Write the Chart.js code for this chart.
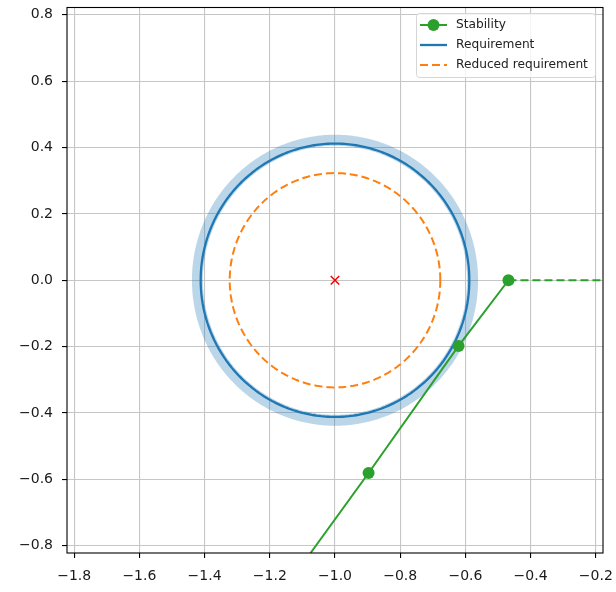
<!DOCTYPE html>
<html><head><meta charset="utf-8">
<script src="https://cdn.jsdelivr.net/npm/chart.js@4/dist/chart.umd.min.js"></script>
<style>html,body{margin:0;padding:0;background:#fff;} canvas{display:block;}</style>
</head><body>
<canvas id="c" width="616" height="592"></canvas>
<script>
// ---- data ----
const xTicks = [-1.8, -1.6, -1.4, -1.2, -1.0, -0.8, -0.6, -0.4, -0.2];
const yTicks = [-0.8, -0.6, -0.4, -0.2, 0.0, 0.2, 0.4, 0.6, 0.8];
const xRange = [-1.822, -0.178];
const yRange = [-0.822, 0.822];
const criticalPoint = [-1.0, 0.0];
const requirementRadius = 0.412;
const requirementBandRadius = 0.422;
const reducedRadius = 0.323;
const stabilityX = [-0.468, -0.621, -0.897, -1.075];
const stabilityY = [0.0, -0.198, -0.581, -0.822];
const stabilityMarker = [6, 6, 6, 0];
const stabilityTailX = [-0.468, -0.178];
const stabilityTailY = [0.0, 0.0];
const legendLabels = ['Stability', 'Requirement', 'Reduced requirement'];

const C0 = '#1f77b4', C1 = '#ff7f0e', C2 = '#2ca02c';

function circle(c, r, n) {
  const pts = [];
  for (let i = 0; i <= n; i++) {
    const t = 2 * Math.PI * i / n;
    pts.push({x: c[0] + r * Math.cos(t), y: c[1] + r * Math.sin(t)});
  }
  return pts;
}
const zip = (xs, ys) => xs.map((x, i) => ({x, y: ys[i]}));
const fmt = v => v.toFixed(1).replace('-', '\u2212');

const FONT = "'DejaVu Sans', sans-serif";

const frameAndLegend = {
  id: 'frameAndLegend',
  afterDatasetsDraw(chart) {
    const {ctx, chartArea: a} = chart;
    ctx.save();
    ctx.strokeStyle = '#000';
    ctx.lineWidth = 1.1;
    ctx.strokeRect(a.left, a.top, a.right - a.left, a.bottom - a.top);
    ctx.restore();
  },
  afterDraw(chart) {
    const {ctx} = chart;
    const box = {x: 416, y: 13, w: 179, h: 64};
    ctx.save();
    ctx.beginPath();
    ctx.roundRect(box.x + 0.5, box.y + 0.5, box.w, box.h, 3);
    ctx.fillStyle = 'rgba(255,255,255,0.8)';
    ctx.fill();
    ctx.strokeStyle = '#d6d6d6';
    ctx.lineWidth = 1;
    ctx.stroke();
    const items = chart.data.datasets.filter(d => d.legendIndex !== undefined)
      .sort((p, q) => p.legendIndex - q.legendIndex);
    items.forEach((d, i) => {
      const y = 25 + i * 20;
      ctx.beginPath();
      ctx.strokeStyle = d.borderColor;
      ctx.lineWidth = d.borderWidth;
      ctx.setLineDash(d.borderDash || []);
      ctx.moveTo(420, y); ctx.lineTo(447, y);
      ctx.stroke();
      ctx.setLineDash([]);
      if (d.legendMarker) {
        ctx.beginPath();
        ctx.fillStyle = d.borderColor;
        ctx.arc(433.5, y, 6, 0, 2 * Math.PI);
        ctx.fill();
      }
      ctx.fillStyle = '#222';
      ctx.font = '12.2px ' + FONT;
      ctx.textBaseline = 'middle';
      ctx.textAlign = 'left';
      ctx.fillText(d.label, 456, y);
    });
    ctx.restore();
  }
};

const lineBase = {showLine: true, pointRadius: 0, tension: 0.0001,
  borderJoinStyle: 'round', borderCapStyle: 'butt'};

new Chart(document.getElementById('c'), {
  type: 'scatter',
  data: {
    datasets: [
      Object.assign({label: 'band', data: circle(criticalPoint, requirementBandRadius, 180),
       borderColor: 'rgba(31,119,180,0.3)', borderWidth: 11, order: 6}, lineBase),
      Object.assign({label: legendLabels[1], legendIndex: 1, data: circle(criticalPoint, requirementRadius, 180),
       borderColor: C0, borderWidth: 2.3, order: 5}, lineBase),
      Object.assign({label: legendLabels[2], legendIndex: 2, data: circle(criticalPoint, reducedRadius, 180),
       borderColor: C1, borderWidth: 2, borderDash: [8, 4], order: 4}, lineBase),
      {label: legendLabels[0], legendIndex: 0, legendMarker: true, data: zip(stabilityX, stabilityY), showLine: true,
       borderColor: C2, backgroundColor: C2, borderWidth: 2, pointRadius: stabilityMarker,
       pointBorderWidth: 0, order: 3},
      {label: 'tail', data: zip(stabilityTailX, stabilityTailY), showLine: true,
       borderColor: C2, borderWidth: 2, borderDash: [8, 4], pointRadius: 0, order: 2},
      {label: 'critical', data: [{x: criticalPoint[0], y: criticalPoint[1]}],
       pointStyle: 'crossRot', pointRadius: 6, borderColor: '#ff0000', borderWidth: 1.5, order: 1}
    ]
  },
  options: {
    responsive: false,
    animation: false,
    devicePixelRatio: 1,
    layout: {autoPadding: false, padding: {left: 0, top: 7.5, right: 13, bottom: 0}},
    plugins: {legend: {display: false}, tooltip: {enabled: false}},
    scales: {
      x: {
        type: 'linear', min: xRange[0], max: xRange[1],
        afterBuildTicks: s => { s.ticks = xTicks.map(v => ({value: v})); },
        afterFit: s => { s.height = 39; s.paddingLeft = 0; s.paddingRight = 0; s.paddingTop = 0; s.paddingBottom = 0; },
        ticks: {callback: v => fmt(v), color: '#1a1a1a', font: {family: FONT, size: 14}, padding: 10, maxRotation: 0, autoSkip: false},
        grid: {color: '#c6c6c6', lineWidth: 1.1, tickColor: '#000', tickLength: 5},
        border: {display: false}
      },
      y: {
        type: 'linear', min: yRange[0], max: yRange[1],
        afterBuildTicks: s => { s.ticks = yTicks.map(v => ({value: v})); },
        afterFit: s => { s.width = 67; s.paddingLeft = 0; s.paddingRight = 0; s.paddingTop = 0; s.paddingBottom = 0; },
        ticks: {callback: v => fmt(v), color: '#1a1a1a', font: {family: FONT, size: 14}, padding: 9, autoSkip: false},
        grid: {color: '#c6c6c6', lineWidth: 1.1, tickColor: '#000', tickLength: 5},
        border: {display: false}
      }
    }
  },
  plugins: [frameAndLegend]
});
</script>
</body></html>
